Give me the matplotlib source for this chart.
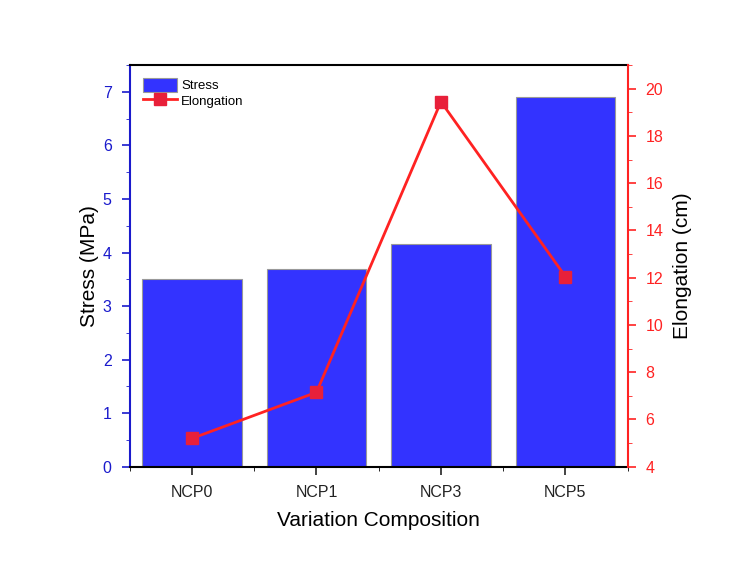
import matplotlib
matplotlib.use("Agg")
import matplotlib.pyplot as plt
from matplotlib.ticker import MultipleLocator

plt.rcParams['font.family'] = ['Liberation Sans', 'DejaVu Sans']

# data
samples = ['NCP0', 'NCP1', 'NCP3', 'NCP5']
stress = [3.5, 3.7, 4.15, 6.9]
elongation = [5.2, 7.15, 19.45, 12.05]

blue = '#3333ff'
red = '#ff2222'

fig = plt.figure(figsize=(7.29, 5.61), dpi=100)
ax = fig.add_axes([0.178, 0.168, 0.683, 0.716])
x = range(len(samples))

bars = ax.bar(x, stress, width=0.8, color=blue, edgecolor='#999999', linewidth=0.8, label='Stress')
ax.set_xlim(-0.5, 3.5)
ax.set_ylim(0, 7.5)
ax.set_xticks(list(x))
ax.set_xticklabels(samples)
ax.xaxis.set_minor_locator(MultipleLocator(0.5))
ax.yaxis.set_major_locator(MultipleLocator(1))
ax.yaxis.set_minor_locator(MultipleLocator(0.5))
ax.set_xlabel('Variation Composition', fontsize=15, labelpad=8)
ax.set_ylabel('Stress (MPa)', fontsize=15, labelpad=3)
ax.tick_params(axis='x', which='major', direction='out', length=6, width=1.2, pad=7,
               labelsize=11.5, colors='#222222')
ax.tick_params(axis='x', which='minor', direction='out', length=3)
ax.tick_params(axis='y', which='major', direction='out', length=6, width=1.2, pad=7,
               labelsize=11.5, colors='#1a1acc')
ax.tick_params(axis='y', which='minor', direction='out', length=3, colors='#1a1acc')
ax.spines['left'].set_color('#1a1acc')
ax.spines['left'].set_linewidth(1.5)
ax.spines['bottom'].set_linewidth(1.5)
ax.spines['top'].set_linewidth(1.5)
ax.spines['right'].set_visible(False)

ax2 = ax.twinx()
line, = ax2.plot(list(x), elongation, color=red, lw=2, marker='s', markersize=8,
                 markerfacecolor='#e8203a', markeredgecolor='#e8203a', label='Elongation')
ax2.set_ylim(4, 21)
ax2.yaxis.set_major_locator(MultipleLocator(2))
ax2.yaxis.set_minor_locator(MultipleLocator(1))
ax2.set_ylabel('Elongation (cm)', fontsize=15, labelpad=7)
ax2.tick_params(axis='y', which='major', direction='out', length=6, width=1.2, pad=7,
                labelsize=11.5, colors=red)
ax2.tick_params(axis='y', which='minor', direction='out', length=3, colors=red)
ax2.spines['right'].set_color(red)
ax2.spines['right'].set_linewidth(1.5)
for s in ['left', 'top', 'bottom']:
    ax2.spines[s].set_visible(False)

ax.legend([bars, line], ['Stress', 'Elongation'], loc='upper left', frameon=False,
          fontsize=9.5, handlelength=2.6, handleheight=1.2, handletextpad=0.3,
          labelspacing=0.1, borderaxespad=0.6)

fig.savefig('out.png', dpi=100)
